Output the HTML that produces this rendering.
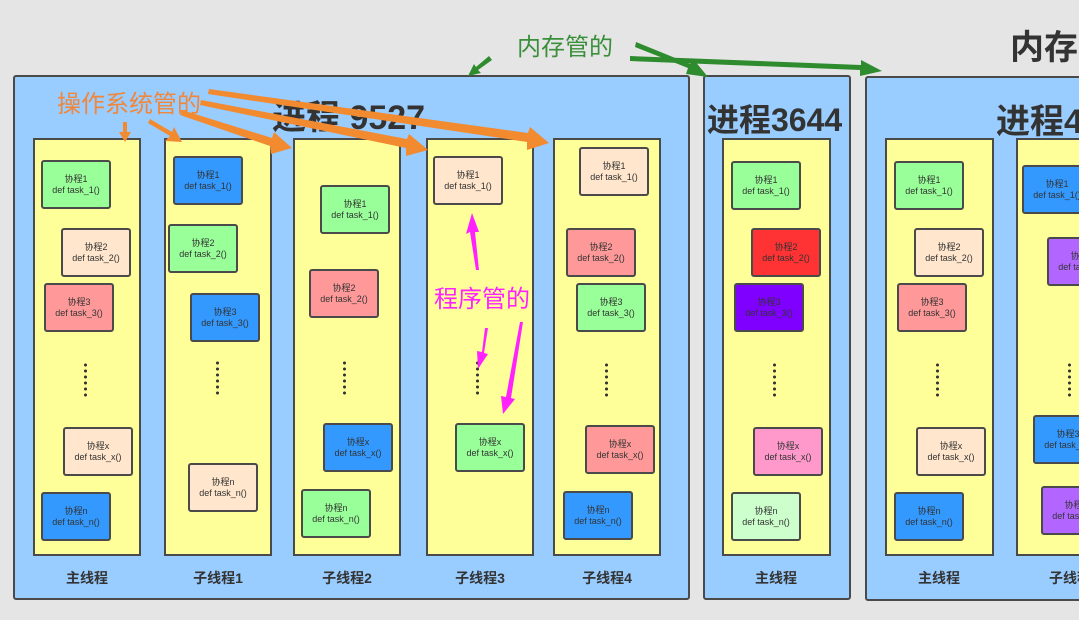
<!DOCTYPE html>
<html><head><meta charset="utf-8"><style>
body{margin:0;width:1079px;height:620px;background:#e5e5e5;position:relative;overflow:hidden;font-family:"Liberation Sans","Noto Sans CJK SC",sans-serif}
.p{position:absolute;background:#99ccff;border:2px solid #4a4a4a;border-radius:3px;box-sizing:border-box}
.c{position:absolute;background:#ffff99;border:2px solid #4a4a4a;box-sizing:border-box;top:138px;height:418px}
.b{position:absolute;width:70px;height:49px;border:2px solid #4a4a4a;border-radius:3px;box-sizing:border-box;font-size:9px;line-height:11px;color:#333;text-align:center;display:flex;flex-direction:column;justify-content:center}
.g{background:#99ff99}.pe{background:#ffe6cc}.s{background:#ff9999}.bl{background:#3399ff}.r{background:#ff3333}.pu{background:#7f00ff}.pk{background:#ff99cc}.lg{background:#ccffcc}.v{background:#b266ff}
.d{position:absolute;width:3px;height:36px;background:radial-gradient(circle,#333 1.4px,transparent 1.6px) 0 0/3px 6px repeat-y}
.l{position:absolute;top:568px;font-size:14px;font-weight:bold;color:#333;width:108px;text-align:center}
.t{position:absolute;font-weight:bold;color:#333;font-size:34px;white-space:nowrap}
.a{position:absolute;font-size:24px;white-space:nowrap}
</style></head><body>
<div class="p" style="left:13px;top:75px;width:677px;height:525px"></div>
<div class="p" style="left:703px;top:75px;width:148px;height:525px"></div>
<div class="p" style="left:865px;top:76px;width:230px;height:525px"></div>
<div class="t" style="left:272px;top:90px">进程 9527</div>
<div class="t" style="left:707px;top:95px;font-size:32px">进程3644</div>
<div class="t" style="left:996px;top:94px">进程4</div>
<div class="t" style="left:1010px;top:20px">内存</div>

<div class="c" style="left:33px;width:108px"></div>
<div class="c" style="left:164px;width:108px"></div>
<div class="c" style="left:293px;width:108px"></div>
<div class="c" style="left:426px;width:108px"></div>
<div class="c" style="left:553px;width:108px"></div>
<div class="c" style="left:722px;width:109px"></div>
<div class="c" style="left:885px;width:109px"></div>
<div class="c" style="left:1016px;width:109px"></div>

<div class="b g" style="left:41px;top:160px">协程1<br>def task_1()</div>
<div class="b pe" style="left:61px;top:228px">协程2<br>def task_2()</div>
<div class="b s" style="left:44px;top:283px">协程3<br>def task_3()</div>
<div class="d" style="left:84px;top:362px"></div>
<div class="b pe" style="left:63px;top:427px">协程x<br>def task_x()</div>
<div class="b bl" style="left:41px;top:492px">协程n<br>def task_n()</div>

<div class="b bl" style="left:173px;top:156px">协程1<br>def task_1()</div>
<div class="b g" style="left:168px;top:224px">协程2<br>def task_2()</div>
<div class="b bl" style="left:190px;top:293px">协程3<br>def task_3()</div>
<div class="d" style="left:216px;top:360px"></div>
<div class="b pe" style="left:188px;top:463px">协程n<br>def task_n()</div>

<div class="b g" style="left:320px;top:185px">协程1<br>def task_1()</div>
<div class="b s" style="left:309px;top:269px">协程2<br>def task_2()</div>
<div class="d" style="left:343px;top:360px"></div>
<div class="b bl" style="left:323px;top:423px">协程x<br>def task_x()</div>
<div class="b g" style="left:301px;top:489px">协程n<br>def task_n()</div>

<div class="b pe" style="left:433px;top:156px">协程1<br>def task_1()</div>
<div class="d" style="left:476px;top:360px"></div>
<div class="b g" style="left:455px;top:423px">协程x<br>def task_x()</div>

<div class="b pe" style="left:579px;top:147px">协程1<br>def task_1()</div>
<div class="b s" style="left:566px;top:228px">协程2<br>def task_2()</div>
<div class="b g" style="left:576px;top:283px">协程3<br>def task_3()</div>
<div class="d" style="left:605px;top:362px"></div>
<div class="b s" style="left:585px;top:425px">协程x<br>def task_x()</div>
<div class="b bl" style="left:563px;top:491px">协程n<br>def task_n()</div>

<div class="b g" style="left:731px;top:161px">协程1<br>def task_1()</div>
<div class="b r" style="left:751px;top:228px">协程2<br>def task_2()</div>
<div class="b pu" style="left:734px;top:283px">协程3<br>def task_3()</div>
<div class="d" style="left:773px;top:362px"></div>
<div class="b pk" style="left:753px;top:427px">协程x<br>def task_x()</div>
<div class="b lg" style="left:731px;top:492px">协程n<br>def task_n()</div>

<div class="b g" style="left:894px;top:161px">协程1<br>def task_1()</div>
<div class="b pe" style="left:914px;top:228px">协程2<br>def task_2()</div>
<div class="b s" style="left:897px;top:283px">协程3<br>def task_3()</div>
<div class="d" style="left:936px;top:362px"></div>
<div class="b pe" style="left:916px;top:427px">协程x<br>def task_x()</div>
<div class="b bl" style="left:894px;top:492px">协程n<br>def task_n()</div>

<div class="b bl" style="left:1022px;top:165px">协程1<br>def task_1()</div>
<div class="b v" style="left:1047px;top:237px">协程2<br>def task_2()</div>
<div class="d" style="left:1068px;top:362px"></div>
<div class="b bl" style="left:1033px;top:415px">协程3<br>def task_3()</div>
<div class="b v" style="left:1041px;top:486px">协程n<br>def task_n()</div>

<div class="l" style="left:33px">主线程</div>
<div class="l" style="left:164px">子线程1</div>
<div class="l" style="left:293px">子线程2</div>
<div class="l" style="left:426px">子线程3</div>
<div class="l" style="left:553px">子线程4</div>
<div class="l" style="left:722px">主线程</div>
<div class="l" style="left:885px">主线程</div>
<div class="l" style="left:1016px">子线程</div>

<div class="a" style="left:57px;top:84px;color:#f0873a">操作系统管的</div>
<div class="a" style="left:517px;top:27px;color:#3a8f3a">内存管的</div>
<div class="a" style="left:434px;top:279px;color:#ff22ff">程序管的</div>

<svg width="1079" height="620" style="position:absolute;left:0;top:0">
<g fill="#f28a30">
<polygon points="123,122 127,122 127,132 131,132 125,142 119,132 123,132"/>
<polygon points="148,123 150,119 172,132 174,127 182,142 165,141 170,136"/>
<polygon points="180,115 182,110 272,138 274,132 292,148 271,154 270,146"/>
<polygon points="200,105 201,100 407,139 409,134 428,150 406,156 406,148"/>
<polygon points="208,94 209,89 528,133 530,127 549,143 527,150 527,142"/>
</g>
<g fill="#2e8b2e">
<polygon points="489,56 492,60 478,70 481,73 468,76 474,64 476,67"/>
<polygon points="636,42 635,47 688,68 686,74 708,77 694,60 690,64"/>
<polygon points="630,56 630,61 860,70 860,76 882,71 861,60 861,65"/>
</g>
<g fill="#ff22ff">
<polygon points="479,270 476,270 470,232 466,234 472,213 479,232 475,232"/>
<polygon points="488,328 485,328 482,352 477,351 478,369 488,354 484,353"/>
<polygon points="523,322 520,322 506,397 501,396 503,414 515,399 511,398"/>
</g>
</svg>
</body></html>
